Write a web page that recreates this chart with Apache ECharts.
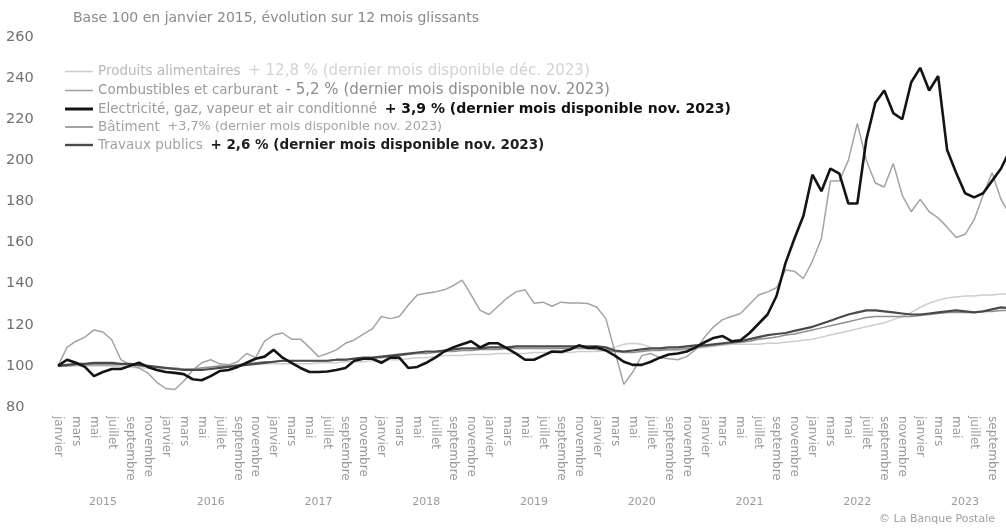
<!DOCTYPE html>
<html><head><meta charset="utf-8">
<script src="https://cdn.jsdelivr.net/npm/echarts@6/dist/echarts.min.js"></script>
<style>html,body{margin:0;padding:0;background:#fff}#c{width:1006px;height:530px}</style>
</head><body><div id="c"></div>
<script>
const years = [2015, 2016, 2017, 2018, 2019, 2020, 2021, 2022, 2023];
const monthNames = ['janvier','février','mars','avril','mai','juin','juillet','août','septembre','octobre','novembre','décembre'];
const seriesNames = ['Produits alimentaires', 'Combustibles et carburant', 'Electricité, gaz, vapeur et air conditionné', 'Bâtiment', 'Travaux publics'];
const seriesNotes = ['+ 12,8 % (dernier mois disponible déc. 2023)', '- 5,2 % (dernier mois disponible nov. 2023)', '+ 3,9 % (dernier mois disponible nov. 2023)', '+3,7% (dernier mois disponible nov. 2023)', '+ 2,6 % (dernier mois disponible nov. 2023)'];

const produitsAlimentaires = [
 100,100,100,100,100,100,100,99.5,99.5,99,99,98.5,
 98.5,98.5,98.5,98.5,99,99.5,100,100,100.5,100.5,101,101,
 101,101,101,101,101,101.5,101.5,101.5,102,102,102,102.5,
 102.5,103,103,103.5,104,104,104.5,105,105,105,105.5,105.5,
 105.5,106,106,106,106,106.5,106.5,106.5,106.5,106.5,107,107,
 107,107.5,109,110.5,111,110.5,109,108,107.5,107.5,108,108.5,
 109,109.5,110,110.5,110.5,110.5,110.5,111,111,111.5,112,112.5,
 113,114,115,116,117,118,119,120,121,122.5,124,126,
 128.5,130.5,132,133,133.5,134,134,134.5,134.5,135,135,135];
const combustibles = [
 100,109,112,114,117.5,116.5,112.6,103,100.5,99,96.5,92,
 89,88.5,92.5,98,101.5,103,101,100.5,102,106,104,112,
 115,116,113,113,109,104.5,106,107.8,111,112.6,115.5,118,
 124,123,124,129.6,134.5,135.3,136,137,139,141.7,134.5,127,
 125,129,133,136,137,130.5,131,129,131,130.6,130.6,130.3,
 128.5,123,107,91,97,105,106,104,103.5,103,104.5,108,
 114,119,122.5,124,125.5,130,134.5,136,138,146.6,146,142.5,
 151,162,190,190,200,218,200,189,187,198.5,183,175,
 181,175,172,167.5,162.5,164,171,183,194,181,173.5];
const electricite = [
 100,103,101.5,99.5,95,97,98.5,98.5,100,101.5,99.5,98,
 97,96.6,96,93.5,93,95,97.5,98,99.5,101.5,103.5,104.5,
 107.8,104,101.5,99,97,97,97.3,98,99,102.5,103.5,103.5,
 101.5,104,104,99,99.5,101.5,104,107,109,110.5,112,109,
 111,111,108.5,106,103,103,105,107,106.8,108,110,108.7,
 109,107.5,105,102,100.5,100.5,102,104,105.5,106,107,109,
 111.5,113.6,114.5,112,112.5,116,120.5,125,134,150,162,173,
 193,185,196,193.5,179,179,210,228,234,223,220,238,
 245,234,241,205,194,184,182,184,190,196,205];
const batiment = [
 100,100,100.5,100.5,100.5,100.5,100.5,100.5,100.5,100,100,99.5,
 99,99,98.5,98.5,99,99.5,100,100,100.5,101,101.5,102,
 102,102.5,102.5,102.5,102.5,102.5,102.5,103,103,103.5,103.5,104,
 104,104.5,105,105.5,106,106,106.5,107,107,107.5,107.5,108,
 108,108,108.5,108.5,108.5,108.5,108.5,108.5,108.5,108.5,108.5,108.5,
 108,107.5,107,106.5,106.5,107,107.5,107.5,108,108,108.5,109,
 109.5,110,110.5,111,111.5,112,113,113.5,114,115,115.5,116.5,
 117.5,118.5,119.5,120.5,121.5,122.5,123.5,124,124,124,124,124,
 124.5,125,125.5,126,126,126,126,126.5,126.5,127,127];
const travauxPublics = [
 100,100.5,101,101,101.5,101.5,101.5,101,101,100.5,100,99.5,
 99,98.5,98,98,98,98.5,99,99.5,100,100.5,101,101.5,
 102,102.5,102.5,102.5,102.5,102.5,102.5,103,103,103.5,104,104,
 104.5,105,105.5,106,106.5,107,107,107.5,108,108.5,108.5,108.5,
 109,109,109,109.5,109.5,109.5,109.5,109.5,109.5,109.5,109.5,109.5,
 109.5,109,107.5,107,107.5,108,108.5,108.5,109,109,109.5,110,
 110,110.5,111,111.5,112,113,114,115,115.5,116,117,118,
 119,120.5,122,123.5,125,126,127,127,126.5,126,125.5,125,
 125,125.5,126,126.5,127,126.5,126,126.5,127.5,128.5,128];

const categories = [];
years.forEach(y => monthNames.forEach(m => categories.push(m + ' ' + y)));

const seriesData = [produitsAlimentaires, combustibles, electricite, batiment, travauxPublics];
const lineColors = ['#cdcdcd', '#a3a3a3', '#141414', '#8e8e8e', '#4a4a4a'];
const lineWidths = [1.5, 1.5, 2.6, 1.5, 2.2];
const legendIcons = ['path://M0,0h28v1.6h-28z', 'path://M0,0h28v1.6h-28z', 'path://M0,0h28v3h-28z', 'path://M0,0h28v1.6h-28z', 'path://M0,0h28v2.4h-28z'];
const nameColors = ['#b8b8b8', '#9a9a9a', '#9a9a9a', '#a3a3a3', '#a3a3a3'];
const noteStyles = [
  {color: '#d2d2d2', fontWeight: 'normal', fontSize: 15},
  {color: '#8c8c8c', fontWeight: 'normal', fontSize: 15},
  {color: '#111111', fontWeight: 'bold', fontSize: 14},
  {color: '#a5a5a5', fontWeight: 'normal', fontSize: 12.8},
  {color: '#1e1e1e', fontWeight: 'bold', fontSize: 13.5}
];
const FONT = 'DejaVu Sans';

const rich = {};
seriesNames.forEach((n, i) => {
  rich['n' + i] = {color: nameColors[i], fontSize: 13.5, fontFamily: FONT, lineHeight: 18};
  rich['a' + i] = Object.assign({fontFamily: FONT, lineHeight: 18}, noteStyles[i]);
});

const chart = echarts.init(document.getElementById('c'), null, {renderer: 'canvas'});
chart.setOption({
  animation: false,
  backgroundColor: '#ffffff',
  textStyle: {fontFamily: FONT},
  title: [
    {text: 'Base 100 en janvier 2015, évolution sur 12 mois glissants', left: 68, top: 6,
     textStyle: {fontSize: 14, fontWeight: 'normal', color: '#8a8a8a', fontFamily: FONT}},
    {text: '© La Banque Postale', right: 6, top: 509,
     textStyle: {fontSize: 11, fontWeight: 'normal', color: '#a0a0a0', fontFamily: FONT}}
  ],
  legend: {
    orient: 'vertical', left: 60, top: 59, itemGap: 4, itemWidth: 28, itemHeight: 12,
    selectedMode: false,
    data: seriesNames.map((n, i) => ({name: n, icon: legendIcons[i], itemStyle: {color: lineColors[i]}})),
    formatter: function (name) {
      const i = seriesNames.indexOf(name);
      return '{n' + i + '|' + name + '}  {a' + i + '|' + seriesNotes[i] + '}';
    },
    textStyle: {rich: rich}
  },
  grid: {left: 58, right: -13, top: 37, bottom: 123, containLabel: false, outerBoundsMode: 'none'},
  xAxis: [
    {type: 'category', data: categories, boundaryGap: false,
     axisLine: {show: false}, axisTick: {show: false},
     axisLabel: {interval: 1, rotate: -90, margin: 9, fontSize: 12, color: '#9a9a9a', fontFamily: FONT,
       formatter: v => v.split(' ')[0]}},
    {type: 'category', data: categories, boundaryGap: false, position: 'bottom', offset: 88,
     axisLine: {show: false}, axisTick: {show: false},
     axisLabel: {interval: (idx) => idx % 12 === 5, margin: 2, fontSize: 11, color: '#9a9a9a', fontFamily: FONT,
       formatter: v => v.split(' ')[1]}}
  ],
  yAxis: {type: 'value', min: 80, max: 260, interval: 20,
    axisLine: {show: false}, axisTick: {show: false}, splitLine: {show: false},
    axisLabel: {align: 'left', margin: 52, fontSize: 14.5, color: '#707070', fontFamily: FONT}},
  series: [0, 1, 3, 4, 2].map(i => ({
    name: seriesNames[i], type: 'line', data: seriesData[i], symbol: 'none',
    lineStyle: {color: lineColors[i], width: lineWidths[i]}, itemStyle: {color: lineColors[i]},
    z: i === 2 ? 5 : 2
  }))
});
</script></body></html>
